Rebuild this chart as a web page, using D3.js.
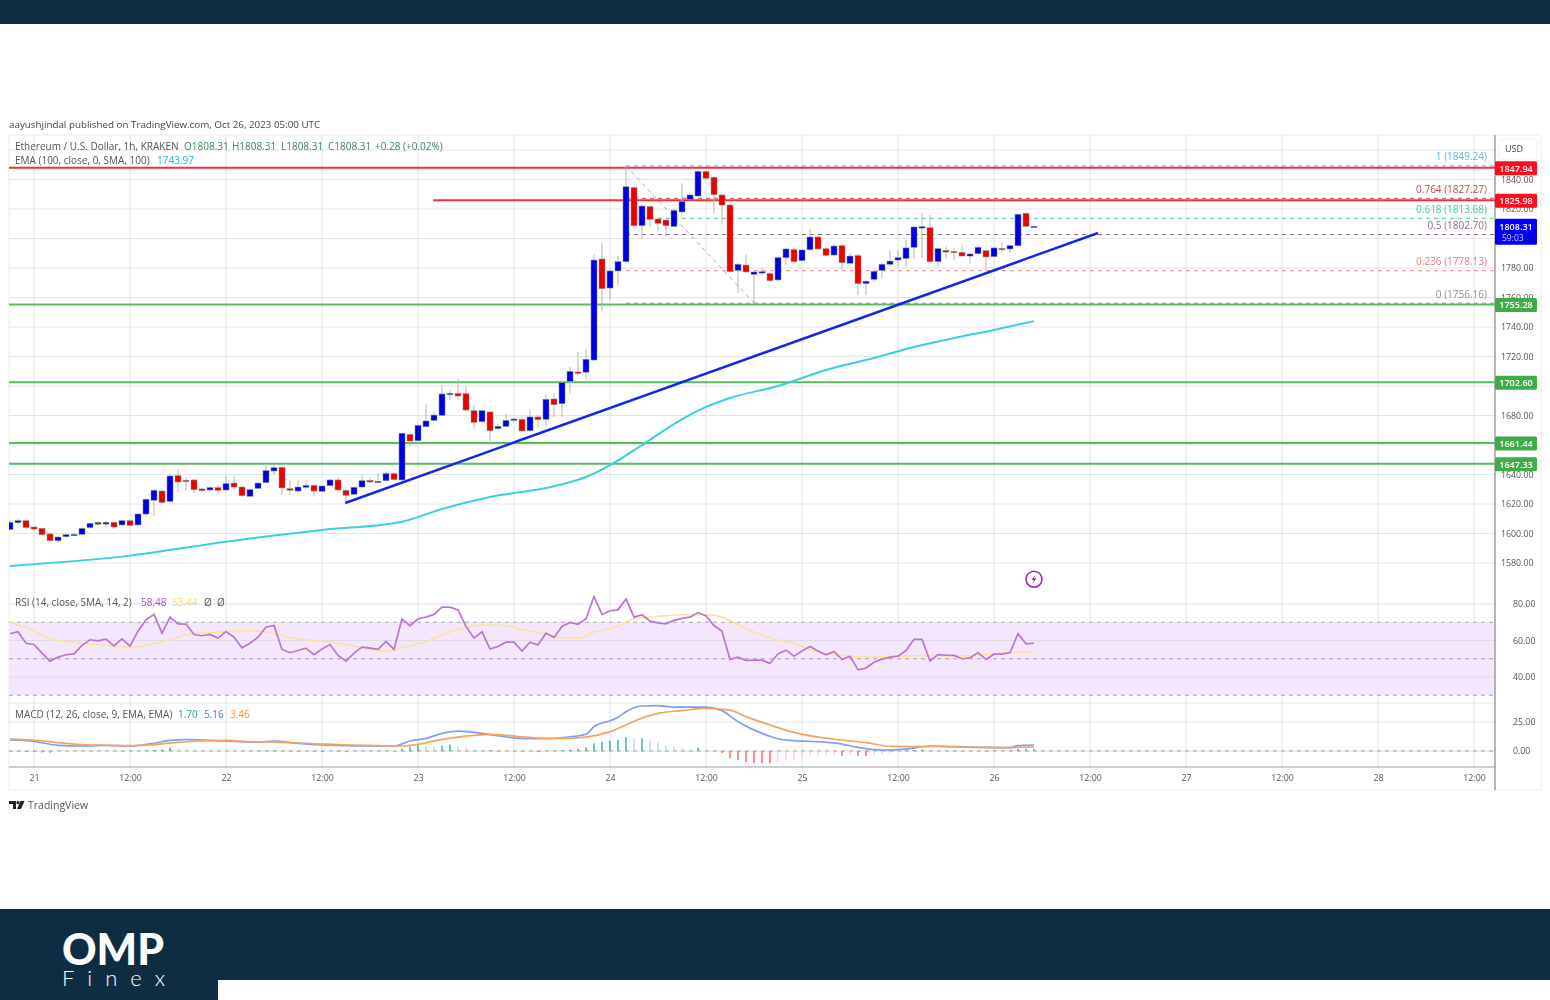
<!DOCTYPE html>
<html lang="en">
<head>
<meta charset="utf-8">
<title>ETH/USD 1h</title>
<script src="https://cdn.jsdelivr.net/npm/d3@7"></script>
<style>
  html, body { margin: 0; background: #fff; }
  svg { display: block; }
  text { font-family: "Open Sans", sans-serif; }
  .axis path, .axis line { display: none; }
  .axis text { font-family: "Open Sans", sans-serif; font-size: 8.8px; fill: #555; }
</style>
</head>
<body>
<svg id="chart" width="1550" height="1000"></svg>
<script>
// candles, one per hour, first one is 03 hours before Oct 21 00:00
var firstHour = -3;
var opens = [
  1602.8,1607.3,1608.7,1604.4,1603.5,1599.7,1595.1,1597.8,1599.0,1599.4,
  1604.0,1607.6,1606.4,1607.6,1605.8,1608.7,1605.8,1613.2,1622.5,1628.8,
  1621.8,1639.2,1636.1,1636.3,1630.2,1629.5,1631.1,1629.5,1634.2,1631.5,
  1625.2,1630.6,1634.5,1642.4,1644.8,1630.4,1628.8,1631.3,1632.6,1628.6,
  1632.4,1636.3,1629.3,1626.6,1631.5,1636.0,1634.9,1635.8,1640.6,1636.3,
  1667.2,1662.9,1672.4,1676.7,1680.1,1694.1,1695.0,1694.8,1683.3,1675.8,
  1682.4,1671.1,1672.6,1677.0,1677.4,1669.7,1679.0,1677.4,1691.2,1688.0,
  1703.2,1709.5,1709.3,1717.6,1786.1,1766.4,1778.0,1784.3,1834.5,1808.7,
  1821.6,1813.2,1812.5,1808.2,1818.0,1826.6,1828.8,1845.5,1841.5,1829.5,
  1822.7,1778.4,1782.0,1775.7,1776.8,1776.2,1771.9,1787.0,1792.4,1785.0,
  1792.4,1801.0,1793.1,1788.8,1795.1,1783.2,1788.4,1769.4,1772.3,1778.4,
  1782.5,1785.4,1786.5,1794.0,1807.1,1807.3,1784.3,1792.0,1791.3,1790.6,
  1788.1,1789.7,1791.7,1787.7,1793.3,1792.9,1795.1,1817.1,1808.03
];
var closes = [
  1607.6,1608.7,1604.0,1603.0,1599.2,1595.1,1597.6,1599.2,1599.4,1603.5,
  1606.9,1606.2,1607.6,1604.4,1608.7,1605.5,1613.2,1623.2,1629.3,1621.1,
  1639.0,1634.9,1635.6,1629.7,1629.0,1631.1,1629.3,1633.8,1631.5,1625.6,
  1629.7,1634.2,1642.6,1644.6,1630.9,1629.3,1631.5,1632.6,1628.8,1632.2,
  1636.3,1629.5,1625.9,1631.3,1635.8,1634.9,1635.4,1640.6,1636.5,1667.9,
  1662.7,1673.3,1676.3,1680.3,1694.6,1695.0,1693.2,1683.7,1675.4,1683.3,
  1669.7,1672.6,1676.7,1677.6,1669.5,1679.0,1677.2,1691.0,1687.3,1702.2,
  1709.9,1708.6,1718.1,1785.4,1766.0,1778.0,1784.3,1835.1,1808.7,1822.0,
  1813.0,1810.3,1808.7,1819.1,1825.0,1829.5,1845.5,1840.8,1829.7,1822.7,
  1777.5,1782.5,1777.3,1777.3,1777.5,1771.4,1787.0,1792.9,1784.3,1792.2,
  1801.0,1792.9,1788.6,1794.9,1783.6,1788.1,1769.4,1771.0,1777.7,1782.5,
  1784.7,1787.0,1793.6,1807.8,1808.0,1784.3,1793.1,1790.8,1790.8,1788.1,
  1789.5,1794.0,1787.5,1793.6,1792.6,1795.1,1816.4,1808.2,1808.31
];
var highs = [
  1609,1610,1609.5,1605,1604,1600.5,1598.5,1600,1600,1604,
  1607.5,1608.5,1608.5,1608,1609.5,1609.5,1614,1624,1630,1630,
  1640,1644,1638,1637,1631,1632,1632,1639,1639,1632,
  1630.5,1635,1646,1646.5,1645.5,1636,1636,1636,1633,1633,
  1637,1638,1630,1632,1639.5,1638,1641,1642,1641.5,1668.5,
  1668,1674,1688,1682.5,1700.5,1697,1705,1699.5,1687,1684,
  1683,1674,1681,1678.5,1679,1684,1680,1694,1695,1703,
  1713,1723,1725,1789,1797,1779,1788,1849.2,1835.5,1823,
  1822.5,1814,1813.5,1820,1837.5,1830.5,1846.5,1846,1842,1830.5,
  1823.5,1783.5,1789,1778,1780,1777,1788,1794,1793.5,1793,
  1806,1802,1794,1796,1796,1790,1789.5,1772,1779,1783.5,
  1792,1792,1799,1808.5,1817,1816,1794,1794.5,1793.5,1795,
  1790.5,1795.5,1792.5,1794.5,1798,1796,1817,1818,1808.5
];
var lows = [
  1602,1606.5,1603,1602,1598.5,1593.5,1594,1597,1598,1598.5,
  1603,1605.5,1604,1603,1605,1605,1605,1612,1612,1620,
  1621,1628,1629,1627,1628,1628.5,1627,1629,1630.5,1625,
  1624.5,1630,1634,1640,1626,1626.5,1628,1630.5,1625,1628,
  1632,1628.5,1621.5,1626,1631,1634,1634.5,1635,1636,1635.5,
  1659,1661,1672,1676,1679.5,1690.5,1690.5,1683,1671,1675,
  1661,1670,1672,1676,1669,1669,1672,1672.5,1679,1679,
  1695,1707,1705,1717,1750.5,1758.5,1768.5,1784,1808,1800,
  1808,1804,1801,1808,1817,1826,1828,1839,1817,1810,
  1777,1763,1776.5,1756.2,1775,1770.5,1771,1782,1783.5,1784.5,
  1792,1792.5,1788,1788,1778.5,1783,1761.7,1761.7,1771,1773,
  1781,1781,1781,1786.5,1787,1784,1781,1786,1785.5,1788,
  1783,1789,1778.5,1787,1791,1790,1794.5,1808,1808
];

var emaHours  = [-3,12,24,36,46,51,57,65,69,72,76,80,84,87,93,99,105,110,115,120,125];
var emaValues = [1578,1585,1594.4,1602.4,1608,1616.6,1624.7,1632,1638.3,1646.4,1660,1674.2,1685.8,1691.9,1700,1710.8,1719,1726.4,1732.5,1738,1743.97];

var trendHours  = [38.9,133];
var trendValues = [1620.7,1803.7];

var fibHours  = [74,90];
var fibValues = [1849.24,1756.16];

var fibLabels = ["1","0.764","0.618","0.5","0.236","0"];
var fibLevels = [1849.24,1827.27,1813.68,1802.70,1778.13,1756.16];
var fibColors = ["#5fb3dc","#c9404a","#3fcfa0","#8d6a86","#ec7a7a","#909090"];

var redLevels   = [1847.94,1825.98];
var redStarts   = [-3.125,49.9];
var greenLevels = [1755.28,1702.60,1661.44,1647.33];

// 1660, 1700, 1800 and 1860 sit behind the tags and the USD box, so they get a grid line only
var gridPrices = [1580,1600,1620,1640,1660,1680,1700,1720,1740,1760,1780,1800,1820,1840,1860];
var priceTicks = [1580,1600,1620,1640,1680,1720,1740,1760,1780,1820,1840];
var rsiTicks   = [80,60,40];
var macdTicks  = [25,0];
var timeHours  = [0,12,24,36,48,60,72,84,96,108,120,132,144,156,168,180];
var timeLabels = ["21","12:00","22","12:00","23","12:00","24","12:00","25","12:00","26","12:00","27","12:00","28","12:00"];

var rsiValues = [
  63.7,64.8,58.5,57.8,53.1,48.7,50.9,52.2,52.7,57.3,
  60.4,59.8,60.7,57.1,60.9,56.9,65.1,71.3,74.3,64.0,
  72.8,69.1,69.0,63.3,62.6,63.3,61.3,64.9,61.8,56.0,
  58.5,61.8,67.3,68.2,55.1,53.3,54.5,55.8,52.2,55.4,
  57.8,51.8,48.7,53.1,56.4,55.8,55.1,59.5,55.1,71.9,
  68.0,71.9,72.8,74.3,78.3,78.3,76.8,67.7,61.3,64.8,
  55.3,56.7,59.1,59.1,54.2,59.1,57.6,64.0,61.7,67.7,
  69.9,68.8,71.9,84.1,74.3,76.3,76.8,82.8,72.8,74.1,
  70.6,69.7,69.1,71.0,72.1,72.8,75.3,73.5,68.2,65.1,
  49.6,50.9,49.1,49.2,49.2,47.4,52.7,54.7,51.4,54.2,
  56.7,54.2,52.2,54.0,49.6,51.4,43.9,44.9,48.1,49.8,
  50.9,51.4,54.5,60.6,60.6,48.7,52.3,52.0,51.8,50.0,
  50.5,53.4,49.6,52.5,52.5,53.4,63.7,58.2,58.48
];
var rsiMaHours  = [-3,0,2,4,6,9,12,14,17,20,23,26,29,32,35,38,41,44,46,49,52,54,56,59,61,64,66,68,70,73,75,78,81,84,86,89,92,95,98,101,104,108,112,116,120,123,125];
var rsiMaValues = [70.1,65.1,60.9,59.6,58.5,57.4,56.4,57.3,60.4,64,64.6,65.5,64.6,61.5,60,58.5,56,54.3,56,59.5,64.6,67.3,68.4,68.2,65.9,63.7,61.5,61.3,64.6,67.9,71.9,73.2,74.1,74.1,72.8,66.4,61.5,58.2,53.6,51.8,51,51.4,51.8,51.6,52.7,53.6,53.44];

var macdHours  = [-3,0,3,6,9,12,15,17,19,22,25,28,30,33,36,39,42,45,47,49,51,53,55,57,61,64,66,69,70,72,73,74,76,78,80,84,86,88,91,93,95,98,101,103,106,109,112,115,119,122,123,125];
var macdValues = [9.5,8.3,4.9,4.3,4.9,4.3,6.6,9.2,9.8,9.2,8.3,7.7,8.6,6.6,5.2,4.6,4.3,4.3,8.6,10.9,15.2,17.2,16.1,14.1,10.9,10.6,11.5,14.4,21,26.1,29,33.9,38.8,39.1,37.9,37.9,34.8,25.3,15.2,10.6,8.9,8,6,3.1,0.8,1.7,4.3,3.7,3.1,2.9,4.6,5.16];
var signalHours  = [-3,0,3,6,9,12,15,18,21,24,27,30,33,36,39,43,46,48,51,54,57,61,64,66,69,72,74,76,78,81,84,87,89,92,95,98,101,104,107,110,113,117,121,123,125];
var signalValues = [10.3,9.5,7.2,5.5,4.9,4.6,5.5,7.5,8.6,9.2,8,7.7,6.9,6,5.2,4.6,4.3,5.7,10,12.9,14.4,12.3,10.9,10.9,12,16.7,22.4,28.4,32.5,34.8,36.8,35.3,29.6,22.4,16.1,12,9.5,7.2,4,3.7,4,3.1,2.9,3.1,3.46];
var histValues = [
  -0.4,-0.6,-0.8,-1,-1.2,-1.5,-1.4,-1,-0.8,-0.7,
  -0.6,-0.5,-0.4,-0.3,-0.3,0.2,0.4,0.6,0.8,1.2,
  3,2,1.5,1,0.8,0.6,0.5,0.3,0.2,-0.2,
  -0.3,0.2,0.4,0.6,-0.3,-0.5,-0.7,-0.4,-0.6,-0.8,
  -0.5,-0.7,-1,-0.6,-0.4,-0.3,0.2,0.4,0.3,2,
  3.7,5.7,4.3,3.7,4.6,5.7,3.7,2.9,1.4,0.9,
  0.9,-0.6,-0.5,-0.5,-0.6,-0.5,-1,0.3,0.5,0.9,
  1,2,3.2,6.6,8,8.9,9.5,11.8,10.9,10.9,
  8.9,7.5,5.2,3.7,2.6,1.4,2.9,0.3,-0.3,-1.7,
  -6.3,-7.8,-9.8,-10.6,-10.6,-10.6,-9.2,-8.3,-7.8,-5,
  -4.3,-4,-3.8,-3.6,-4.3,-3.2,-4.3,-4.3,-3.4,-2.9,
  -2,-0.8,0.5,0.8,1.4,0.4,0.3,-0.3,0.2,-0.3,
  -0.3,0.2,-0.2,0.2,0.3,0.4,1.7,1.7,1.7
];

var svg = d3.select("#chart");

// scales
var x = d3.scaleLinear().domain([-3.125, 182.625]).range([9, 1495]);
var yPrice = d3.scaleLinear().domain([1580, 1860]).range([563, 150]);
var yRsi = d3.scaleLinear().domain([40, 80]).range([677, 604]);
var yMacd = d3.scaleLinear().domain([0, 25]).range([751, 722]);
var hourOf = function(i) { return firstHour + i; };

// the reference is a soft upscaled screenshot, so the chart part gets a small blur
svg.append("defs").append("filter").attr("id", "soft")
  .attr("filterUnits", "userSpaceOnUse")
  .attr("x", 0).attr("y", 100).attr("width", 1550).attr("height", 730)
  .append("feGaussianBlur").attr("stdDeviation", 0.5);
svg.select("defs").append("clipPath").attr("id", "mainClip").append("rect")
  .attr("x", 9).attr("y", 135).attr("width", 1486).attr("height", 455);

// page bands
svg.append("rect").attr("width", 1550).attr("height", 24).attr("fill", "#0f2d42");
svg.append("rect").attr("y", 909).attr("width", 1550).attr("height", 91).attr("fill", "#0f2d42");
svg.append("rect").attr("x", 218).attr("y", 980).attr("width", 1332).attr("height", 20).attr("fill", "#fff");
svg.append("text").attr("x", 62).attr("y", 965).attr("font-size", 44).attr("font-weight", 900)
  .style("font-family", "Lato").attr("fill", "#fff")
  .attr("textLength", 102).attr("lengthAdjust", "spacingAndGlyphs").text("OMP");
svg.append("text").attr("x", 62).attr("y", 986).attr("font-size", 22).attr("font-weight", 300)
  .style("font-family", "Lato").attr("fill", "#fff")
  .attr("textLength", 103).attr("lengthAdjust", "spacing").text("Finex");

var g = svg.append("g").attr("filter", "url(#soft)");

// frame and panes
g.append("rect").attr("x", 9).attr("y", 135).attr("width", 1532).attr("height", 655)
  .attr("fill", "#fff").attr("stroke", "#ececec");

var gridColor = "#e4e4e4";
g.append("g").selectAll("line").data(timeHours).join("line")
  .attr("x1", function(d) { return x(d); }).attr("x2", function(d) { return x(d); })
  .attr("y1", 135).attr("y2", 767).attr("stroke", gridColor);
g.append("g").selectAll("line").data(gridPrices).join("line")
  .attr("x1", 9).attr("x2", 1495)
  .attr("y1", function(d) { return yPrice(d); }).attr("y2", function(d) { return yPrice(d); })
  .attr("stroke", gridColor);

// rsi band
g.append("rect").attr("x", 9).attr("width", 1486)
  .attr("y", yRsi(70)).attr("height", yRsi(30) - yRsi(70)).attr("fill", "#f4e7fd");
g.append("g").selectAll("line").data(rsiTicks).join("line")
  .attr("x1", 9).attr("x2", 1495)
  .attr("y1", function(d) { return yRsi(d); }).attr("y2", function(d) { return yRsi(d); })
  .attr("stroke", "#e2d9e8");
g.append("g").selectAll("line").data([70, 50, 30]).join("line")
  .attr("x1", 9).attr("x2", 1495)
  .attr("y1", function(d) { return yRsi(d); }).attr("y2", function(d) { return yRsi(d); })
  .attr("stroke", "#a8a0ae").attr("stroke-dasharray", "4 4");
g.append("line").attr("x1", 9).attr("x2", 1495).attr("y1", 703).attr("y2", 703).attr("stroke", gridColor);
g.append("g").selectAll("line").data(macdTicks).join("line")
  .attr("x1", 9).attr("x2", 1495)
  .attr("y1", function(d) { return yMacd(d); }).attr("y2", function(d) { return yMacd(d); })
  .attr("stroke", gridColor);
g.append("line").attr("x1", 9).attr("x2", 1495).attr("y1", yMacd(0)).attr("y2", yMacd(0))
  .attr("stroke", "#a0a0a0").attr("stroke-dasharray", "4 4");

// axis rules
g.append("line").attr("x1", 9).attr("x2", 1495).attr("y1", 767).attr("y2", 767).attr("stroke", "#a0a0a0").attr("stroke-width", 1.2);
g.append("line").attr("x1", 1495).attr("x2", 1495).attr("y1", 135).attr("y2", 790).attr("stroke", "#858585").attr("stroke-width", 1.2);

var main = g.append("g").attr("clip-path", "url(#mainClip)");

// fib retracement
main.append("line")
  .attr("x1", x(fibHours[0])).attr("y1", yPrice(fibValues[0]))
  .attr("x2", x(fibHours[1])).attr("y2", yPrice(fibValues[1]))
  .attr("stroke", "#a9a9a9").attr("stroke-dasharray", "4 4");
main.append("g").selectAll("line").data(fibLevels).join("line")
  .attr("x1", x(fibHours[0])).attr("x2", 1495)
  .attr("y1", function(d) { return yPrice(d); }).attr("y2", function(d) { return yPrice(d); })
  .attr("stroke", function(d, i) { return fibColors[i]; })
  .attr("stroke-dasharray", "4 4");
g.append("g").selectAll("text").data(fibLevels).join("text")
  .attr("x", 1487).attr("y", function(d) { return yPrice(d) - 5.5; })
  .attr("text-anchor", "end").attr("font-size", 10)
  .attr("fill", function(d, i) { return fibColors[i]; })
  .text(function(d, i) { return fibLabels[i] + " (" + d.toFixed(2) + ")"; });

// horizontal levels
main.append("g").selectAll("line").data(greenLevels).join("line")
  .attr("x1", 9).attr("x2", 1495)
  .attr("y1", function(d) { return yPrice(d); }).attr("y2", function(d) { return yPrice(d); })
  .attr("stroke", "#5abb5f").attr("stroke-width", 2);
main.append("g").selectAll("line").data(redLevels).join("line")
  .attr("x1", function(d, i) { return x(redStarts[i]); }).attr("x2", 1495)
  .attr("y1", function(d) { return yPrice(d); }).attr("y2", function(d) { return yPrice(d); })
  .attr("stroke", "#ff2a36").attr("stroke-width", 2);

// ema
main.append("path")
  .attr("d", d3.line().x(function(d) { return x(d); })
    .y(function(d, i) { return yPrice(emaValues[i]); }).curve(d3.curveMonotoneX)(emaHours))
  .attr("fill", "none").attr("stroke", "#38cfe3").attr("stroke-width", 2);

// candles
var candles = main.append("g").selectAll("g").data(closes).join("g");
candles.append("line")
  .attr("x1", function(d, i) { return x(hourOf(i)); }).attr("x2", function(d, i) { return x(hourOf(i)); })
  .attr("y1", function(d, i) { return yPrice(highs[i]); }).attr("y2", function(d, i) { return yPrice(lows[i]); })
  .attr("stroke", "#b4b7b4");
candles.append("rect")
  .attr("x", function(d, i) { return x(hourOf(i)) - 3; }).attr("width", 6)
  .attr("y", function(d, i) { return yPrice(Math.max(opens[i], closes[i])); })
  .attr("height", function(d, i) { return Math.max(1.4, Math.abs(yPrice(opens[i]) - yPrice(closes[i]))); })
  .attr("fill", function(d, i) { return closes[i] >= opens[i] ? "#0000e6" : "#f00000"; })
  .attr("stroke", "#7f9a8a").attr("stroke-width", 0.5);

// trend line, drawn over the candles
main.append("line")
  .attr("x1", x(trendHours[0])).attr("y1", yPrice(trendValues[0]))
  .attr("x2", x(trendHours[1])).attr("y2", yPrice(trendValues[1]))
  .attr("stroke", "#1426e6").attr("stroke-width", 2.5);

// alert icon
var alertIcon = g.append("g").attr("transform", "translate(" + x(125) + "," + yPrice(1569) + ")");
alertIcon.append("circle").attr("r", 8).attr("fill", "#fff").attr("stroke", "#9c27b0").attr("stroke-width", 1.5);
alertIcon.append("path").attr("d", "M1.5 -4.5 L-2.5 0.8 L0 0.8 L-1.5 4.5 L2.5 -1 L0 -1 Z").attr("fill", "#9c27b0");

// rsi
var lineRsi = d3.line().x(function(d, i) { return x(hourOf(i)); }).y(function(d) { return yRsi(d); });
g.append("path")
  .attr("d", d3.line().x(function(d) { return x(d); })
    .y(function(d, i) { return yRsi(rsiMaValues[i]); }).curve(d3.curveMonotoneX)(rsiMaHours))
  .attr("fill", "none").attr("stroke", "#fbe39a").attr("stroke-width", 1.6);
g.append("path").attr("d", lineRsi(rsiValues))
  .attr("fill", "none").attr("stroke", "#bc75cf").attr("stroke-width", 1.7);

// macd
g.append("g").selectAll("line").data(histValues).join("line")
  .attr("x1", function(d, i) { return x(hourOf(i)); }).attr("x2", function(d, i) { return x(hourOf(i)); })
  .attr("y1", yMacd(0)).attr("y2", function(d) { return yMacd(d); })
  .attr("stroke-width", 1.3)
  .attr("stroke", function(d, i) {
    var prev = i > 0 ? histValues[i - 1] : 0;
    if (d >= 0) return d >= prev ? "#26a69a" : "#b2dfdb";
    return d <= prev ? "#ff5252" : "#ffcdd2";
  });
g.append("path")
  .attr("d", d3.line().x(function(d) { return x(d); })
    .y(function(d, i) { return yMacd(macdValues[i]); }).curve(d3.curveMonotoneX)(macdHours))
  .attr("fill", "none").attr("stroke", "#7f9ff5").attr("stroke-width", 1.7);
g.append("path")
  .attr("d", d3.line().x(function(d) { return x(d); })
    .y(function(d, i) { return yMacd(signalValues[i]); }).curve(d3.curveMonotoneX)(signalHours))
  .attr("fill", "none").attr("stroke", "#f5a364").attr("stroke-width", 1.7);

// axes
g.append("g").attr("class", "axis").attr("transform", "translate(1495,0)")
  .call(d3.axisRight(yPrice).tickValues(priceTicks).tickSize(0).tickPadding(6).tickFormat(d3.format(".2f")));
g.append("g").attr("class", "axis").attr("transform", "translate(1495,0)")
  .call(d3.axisRight(yRsi).tickValues(rsiTicks).tickSize(0).tickPadding(18).tickFormat(d3.format(".2f")));
g.append("g").attr("class", "axis").attr("transform", "translate(1495,0)")
  .call(d3.axisRight(yMacd).tickValues(macdTicks).tickSize(0).tickPadding(18).tickFormat(d3.format(".2f")));
g.append("g").attr("class", "axis").attr("transform", "translate(0,767)")
  .call(d3.axisBottom(x).tickValues(timeHours).tickSize(0).tickPadding(8)
    .tickFormat(function(d, i) { return timeLabels[i]; }));

// price tags
function priceTag(value, color) {
  var t = g.append("g").attr("transform", "translate(1495," + yPrice(value) + ")");
  t.append("rect").attr("y", -6.5).attr("width", 42).attr("height", 14).attr("rx", 1.5).attr("fill", color);
  t.append("text").attr("x", 21).attr("y", 3.8).attr("text-anchor", "middle")
    .attr("font-size", 9).attr("font-weight", 600).attr("fill", "#fff").text(value.toFixed(2));
}
redLevels.forEach(function(d) { priceTag(d, "#ff0f1f"); });
greenLevels.forEach(function(d) { priceTag(d, "#43ab4a"); });

var lastClose = closes[closes.length - 1];
var lastTag = g.append("g").attr("transform", "translate(1495," + yPrice(lastClose) + ")");
lastTag.append("rect").attr("y", -7.5).attr("width", 42).attr("height", 26).attr("rx", 1.5).attr("fill", "#0000f5");
lastTag.append("text").attr("x", 21).attr("y", 3.5).attr("text-anchor", "middle")
  .attr("font-size", 9).attr("font-weight", 600).attr("fill", "#fff").text(lastClose.toFixed(2));
lastTag.append("text").attr("x", 7).attr("y", 15).attr("font-size", 8.5).attr("fill", "#c9c9ff").text("59:03");

// usd box
g.append("rect").attr("x", 1499).attr("y", 139).attr("width", 38).attr("height", 20).attr("rx", 3)
  .attr("fill", "#fff").attr("stroke", "#efefef");
g.append("text").attr("x", 1514).attr("y", 152).attr("text-anchor", "middle").attr("font-size", 9).attr("fill", "#444").text("USD");

// legends
function label(px, py, txt, color, size) {
  g.append("text").attr("x", px).attr("y", py).attr("font-size", size || 10).attr("fill", color).text(txt);
}
label(9, 128, "aayushjindal published on TradingView.com, Oct 26, 2023 05:00 UTC", "#444", 9.8);
label(15, 150, "Ethereum / U.S. Dollar, 1h, KRAKEN", "#555");
label(184, 150, "O1808.31", "#3f8460");
label(232, 150, "H1808.31", "#3f8460");
label(281, 150, "L1808.31", "#3f8460");
label(328, 150, "C1808.31", "#3f8460");
label(375, 150, "+0.28 (+0.02%)", "#3f8460");
label(15, 164, "EMA (100, close, 0, SMA, 100)", "#555");
label(157, 164, "1743.97", "#20bcd8");
label(15, 606, "RSI (14, close, SMA, 14, 2)", "#555");
label(141, 606, "58.48", "#a050bc");
label(172, 606, "53.44", "#f5d95c");
label(204, 606, "\u00D8", "#555");
label(217, 606, "\u00D8", "#555");
label(15, 718, "MACD (12, 26, close, 9, EMA, EMA)", "#555");
label(178, 718, "1.70", "#2f9f90");
label(204, 718, "5.16", "#4f78ea");
label(230, 718, "3.46", "#f59040");

// tradingview mark
var tv = g.append("g").attr("transform", "translate(9,801)").attr("fill", "#222");
tv.append("path").attr("d", "M0 0 H7 V8 H4 V3 H0 Z");
tv.append("circle").attr("cx", 9).attr("cy", 1.6).attr("r", 1.6);
tv.append("path").attr("d", "M11.5 0 H15.5 L12 8 H8 Z");
label(28, 809, "TradingView", "#555", 10.5);
</script>
</body>
</html>
